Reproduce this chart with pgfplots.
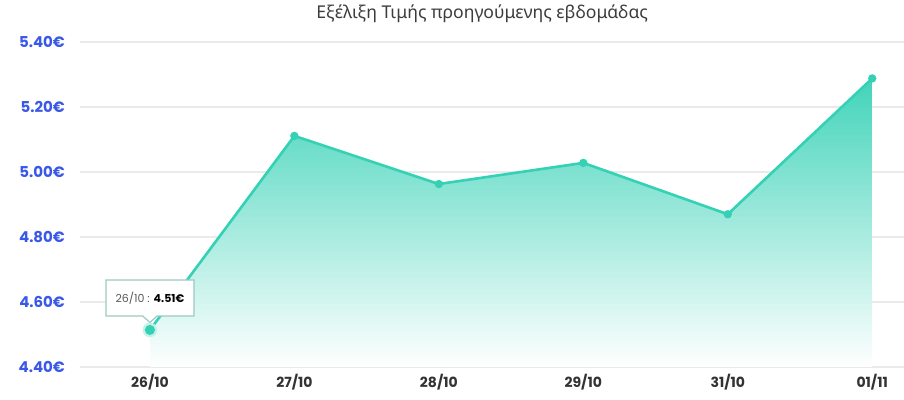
\documentclass[border=0pt]{standalone}
\usepackage{fontspec}
\setmainfont{Poppins}
\newfontfamily\greekfont{Noto Sans}
\usepackage{pgfplots}
\pgfplotsset{compat=1.18}
\usetikzlibrary{shapes.callouts}

\definecolor{tealline}{RGB}{52,209,180}
\definecolor{tealfill}{RGB}{66,212,186}
\definecolor{yblue}{RGB}{58,88,232}
\definecolor{xdark}{RGB}{51,51,51}
\definecolor{gridc}{RGB}{234,234,234}
\definecolor{titlec}{RGB}{60,60,60}

\begin{document}
\begin{tikzpicture}
\begin{axis}[
    scale only axis,
    width=412pt, height=162.5pt,
    xmin=-0.484, xmax=5.22,
    ymin=4.40, ymax=5.40,
    axis line style={draw=none},
    tick style={draw=none},
    ymajorgrids=true,
    grid style={gridc, line width=0.6pt},
    xtick={0,1,2,3,4,5},
    xticklabels={26/10,27/10,28/10,29/10,31/10,01/11},
    ytick={4.4,4.6,4.8,5.0,5.2,5.4},
    yticklabels={4.40€,4.60€,4.80€,5.00€,5.20€,5.40€},
    yticklabel style={font=\fontsize{7.5}{9}\selectfont\bfseries, text=yblue, anchor=east, xshift=-4pt},
    xticklabel style={font=\fontsize{7}{8}\selectfont\bfseries, text=xdark},
    clip=false,
]
% gradient area
\addplot[draw=none, top color=tealfill, bottom color=white] coordinates {
(0,4.40)
(0,4.514)
(1,5.111)
(2,4.963)
(3,5.028)
(4,4.870)
(5,5.288)
(5,4.40)
} -- cycle;

% price line
\addplot[tealline, line width=1.3pt, mark=*, mark size=1.4pt] coordinates {
(0,4.514)
(1,5.111)
(2,4.963)
(3,5.028)
(4,4.870)
(5,5.288)
};

% hovered point
\addplot[only marks, mark=*, mark size=3.4pt, color=tealline!30] coordinates {(0,4.514)};
\addplot[only marks, mark=*, mark size=2.3pt, color=tealline] coordinates {(0,4.514)};

% tooltip
\node[rectangle callout, draw=tealline!45!gray!60, fill=white, line width=0.6pt,
      minimum width=44pt, minimum height=18pt, inner sep=2pt,
      callout absolute pointer={(axis cs:0,4.537)},
      font=\fontsize{5.5}{6}\selectfont]
  at (axis cs:0.0,4.612) {{\color{gray!70!black}26/10 :} \textbf{4.51€}};

% title
\node[font=\greekfont\fontsize{8.8}{10}\selectfont, text=titlec]
  at ([yshift=14pt]rel axis cs:0.488,1) {Εξέλιξη Τιμής προηγούμενης εβδομάδας};

\coordinate (ll) at (rel axis cs:0,0);
\coordinate (ur) at (rel axis cs:1,1);
\end{axis}
\pgfresetboundingbox
\path[use as bounding box] ([xshift=-40pt,yshift=-16.5pt]ll) rectangle ([yshift=21pt]ur);
\end{tikzpicture}
\end{document}
